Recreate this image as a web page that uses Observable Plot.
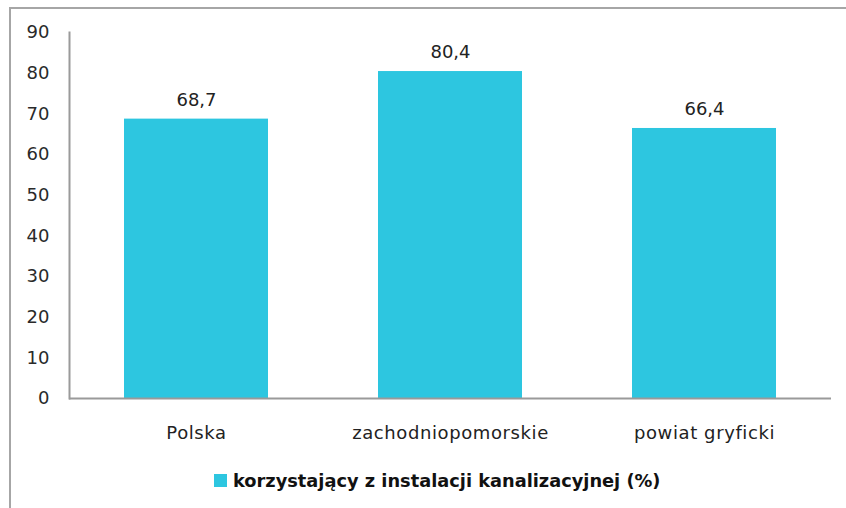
<!DOCTYPE html>
<html><head><meta charset="utf-8">
<script src="https://cdn.jsdelivr.net/npm/d3@7"></script>
<script src="https://cdn.jsdelivr.net/npm/@observablehq/plot@0.6"></script>
<style>
html,body{margin:0;padding:0;background:#fff;overflow:hidden;width:846px;height:508px;}
#frame{position:absolute;left:9px;top:7px;width:860px;height:520px;border-left:2px solid #a6a6a6;border-top:2px solid #a6a6a6;}
#chart{position:absolute;left:0;top:0;}
#chart g[aria-label="x-axis tick label"] text{letter-spacing:0.6px;}
#legend{position:absolute;left:214px;top:470px;display:flex;align-items:center;font:bold 17.8px "DejaVu Sans";color:#111;white-space:nowrap;}
#legend .sw{width:13px;height:13px;margin-right:6px;}
</style></head>
<body>
<div id="frame"></div>
<div id="chart"></div>
<div id="legend"></div>
<script>
const categories = ["Polska", "zachodniopomorskie", "powiat gryficki"];
const values = [68.7, 80.4, 66.4];
const valueLabels = ["68,7", "80,4", "66,4"];
const yTicks = [0, 10, 20, 30, 40, 50, 60, 70, 80, 90];
const seriesName = "korzystający z instalacji kanalizacyjnej (%)";
const barColor = "#2dc6e0";

const data = categories.map((c, i) => ({category: c, value: values[i], label: valueLabels[i]}));

const chart = Plot.plot({
  width: 846,
  height: 455,
  marginLeft: 69,
  marginRight: 15,
  marginTop: 32,
  marginBottom: 57,
  style: {fontFamily: "DejaVu Sans", fontSize: "18px", background: "transparent", overflow: "visible"},
  x: {domain: categories, paddingInner: 0.433, paddingOuter: 0.2165, label: null},
  y: {domain: [0, 90], label: null},
  marks: [
    Plot.barY(data, {x: "category", y: "value", fill: barColor}),
    Plot.axisY({ticks: yTicks, tickSize: 0, tickPadding: 20, fill: "#2a2a2a", label: null, fontSize: 18}),
    Plot.axisX({tickSize: 0, tickPadding: 28, fill: "#222", label: null, fontSize: 18}),
    Plot.ruleY([0], {stroke: "#9a9a9a", strokeWidth: 2}),
    Plot.frame({anchor: "left", stroke: "#9a9a9a", strokeWidth: 2}),
    Plot.text(data, {x: "category", y: "value", text: "label", dy: -19, fill: "#222", fontSize: 18})
  ]
});
document.getElementById("chart").appendChild(chart);

const legend = document.getElementById("legend");
const sw = document.createElement("span");
sw.className = "sw";
sw.style.background = barColor;
legend.appendChild(sw);
const t = document.createElement("span");
t.textContent = seriesName;
legend.appendChild(t);
</script>
</body></html>
